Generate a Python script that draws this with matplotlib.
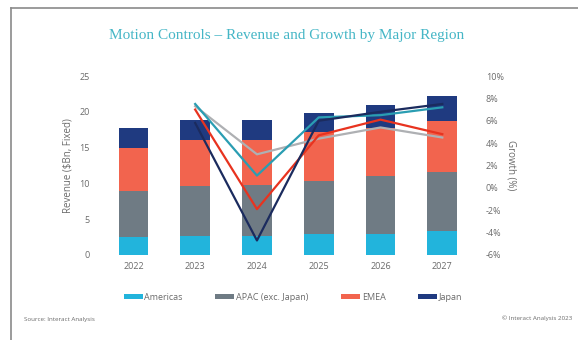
import matplotlib
matplotlib.use("Agg")
import matplotlib.pyplot as plt
import numpy as np
from matplotlib.patches import Patch
from matplotlib.lines import Line2D

plt.rcParams["font.family"] = ["Open Sans", "DejaVu Sans"]

years = ["2022", "2023", "2024", "2025", "2026", "2027"]
regions = ["Americas", "APAC (exc. Japan)", "EMEA", "Japan"]

# revenue, $Bn (stacked)
americas = [2.5, 2.6, 2.6, 2.9, 3.0, 3.3]
apac = [6.5, 7.0, 7.2, 7.4, 8.0, 8.3]
emea = [6.0, 6.4, 6.3, 6.9, 6.7, 7.1]
japan = [2.8, 2.8, 2.7, 2.7, 3.3, 3.5]

# growth %, 2023-2027
growth_years = ["2023", "2024", "2025", "2026", "2027"]
g_americas = [7.5, 1.1, 6.3, 6.5, 7.2]
g_apac = [7.3, 3.0, 4.4, 5.4, 4.5]
g_emea = [7.0, -1.9, 4.7, 6.1, 4.8]
g_japan = [5.8, -4.7, 6.0, 6.8, 7.5]

bar_colors = ["#22B4DC", "#6F7B84", "#F2644E", "#1F3A80"]
line_colors = ["#2A9DB2", "#AEB0B3", "#E8331F", "#1B2B5E"]
text_grey = "#6b6b6b"

fig = plt.figure(figsize=(5.78, 3.40), dpi=100)

# screenshot frame
fig.add_artist(Line2D([11 / 578, 11 / 578], [0, 1 - 8 / 340], color="#8a8a8a", lw=1.2))
fig.add_artist(Line2D([11 / 578, 1], [1 - 8 / 340, 1 - 8 / 340], color="#8a8a8a", lw=1.2))

ax = fig.add_axes([102.5 / 578, 85 / 340, 370.7 / 578, 179 / 340])
x = np.arange(len(years))
bottom = np.zeros(len(years))
for vals, c in zip([americas, apac, emea, japan], bar_colors):
    ax.bar(x, vals, width=0.48, bottom=bottom, color=c, zorder=2)
    bottom += np.array(vals)

ax.set_xlim(-0.5, len(years) - 0.5)
ax.set_ylim(0, 25)
ax.set_yticks([0, 5, 10, 15, 20, 25])
ax.set_xticks(x)
ax.set_xticklabels(years)
ax.tick_params(axis="both", length=0, labelsize=6.5, colors=text_grey)
ax.tick_params(axis="y", pad=9)
ax.tick_params(axis="x", pad=5)
ax.set_ylabel("Revenue ($Bn, Fixed)", fontsize=7, color=text_grey, labelpad=4)
for s in ax.spines.values():
    s.set_visible(False)

ax2 = ax.twinx()
gx = [years.index(y) for y in growth_years]
for vals, c in zip([g_apac, g_americas, g_emea, g_japan], [line_colors[1], line_colors[0], line_colors[2], line_colors[3]]):
    ax2.plot(gx, vals, color=c, lw=1.6, zorder=3)
ax2.set_ylim(-6, 10)
ax2.set_yticks(range(-6, 11, 2))
ax2.set_yticklabels([f"{v}%" for v in range(-6, 11, 2)])
ax2.tick_params(axis="y", length=0, labelsize=6.5, colors=text_grey, pad=9)
ax2.set_ylabel("Growth (%)", fontsize=7, color=text_grey, rotation=270, labelpad=9)
for s in ax2.spines.values():
    s.set_visible(False)

fig.text(287 / 578, 1 - 35 / 340, "Motion Controls \u2013 Revenue and Growth by Major Region",
         ha="center", va="center", fontsize=11, color="#45B6C6", family="Liberation Serif")

handles = [Patch(facecolor=c, edgecolor="none") for c in bar_colors]
fig.legend(handles, regions, loc="center", bbox_to_anchor=(0.507, 43 / 340), ncol=4,
           frameon=False, fontsize=6.5, handlelength=2.1, handleheight=0.45,
           handletextpad=0.2, columnspacing=3.6, labelcolor=text_grey)

fig.text(24 / 578, 1 - 320 / 340, "Source: Interact Analysis", fontsize=4.5, color=text_grey,
         ha="left", va="center")
fig.text(572 / 578, 1 - 318 / 340, "\u00a9 Interact Analysis 2023", fontsize=4.5, color=text_grey,
         ha="right", va="center")

fig.savefig("out.png", dpi=100)
